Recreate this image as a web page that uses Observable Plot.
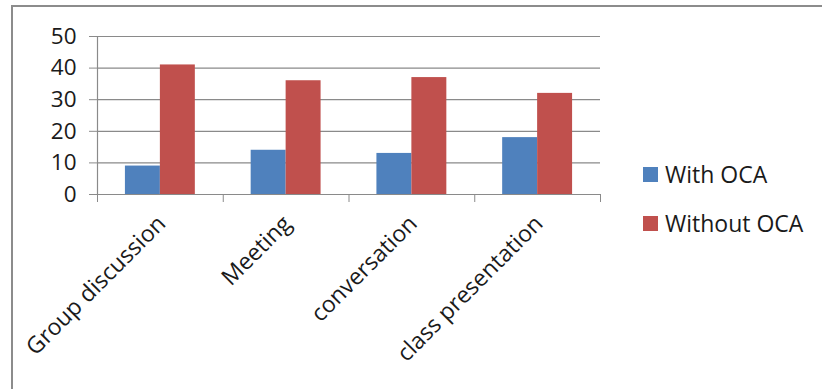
<!DOCTYPE html>
<html><head><meta charset="utf-8">
<script src="https://cdn.jsdelivr.net/npm/d3@7"></script>
<script src="https://cdn.jsdelivr.net/npm/@observablehq/plot@0.6"></script>
<style>
html,body{margin:0;padding:0;background:#fff;}
#wrap{position:relative;width:822px;height:389px;overflow:hidden;font-family:"Open Sans",sans-serif;}
#frame{position:absolute;left:11px;top:5px;right:-10px;bottom:-10px;border-top:2px solid #8c8c8c;border-left:2px solid #8c8c8c;}
#chart{position:absolute;left:0;top:0;}
#legend{position:absolute;left:643px;top:161px;}
.item{display:flex;align-items:center;height:26px;margin-bottom:23px;font-size:23px;color:#1a1a1a;white-space:nowrap;}
.sw{width:15px;height:15px;margin-right:7px;flex:none;}
</style></head><body>
<div id="wrap"><div id="frame"></div><div id="chart"></div><div id="legend"></div></div>
<script>
const categories = ["Group discussion", "Meeting", "conversation", "class presentation"];
const seriesNames = ["With OCA", "Without OCA"];
const withOCA = [9, 14, 13, 18];
const withoutOCA = [41, 36, 37, 32];
const seriesColors = ["#4F81BD", "#C0504D"];
const yTicks = [0, 10, 20, 30, 40, 50];

const gray = "#8a8a8a";
const barW = 0.278; // fraction of a category slot per bar

const rows = [];
categories.forEach((c, i) => {
  rows.push({category: c, index: i, s: 0, series: seriesNames[0], value: withOCA[i]});
  rows.push({category: c, index: i, s: 1, series: seriesNames[1], value: withoutOCA[i]});
});

const chart = Plot.plot({
  width: 822,
  height: 389,
  marginLeft: 97,
  marginRight: 222,
  marginTop: 36,
  marginBottom: 195,
  style: {fontFamily: "'Open Sans', sans-serif", fontSize: "22px", color: "#1a1a1a", background: "transparent", overflow: "visible"},
  x: {domain: [0, categories.length], axis: null},
  y: {domain: [0, 50], axis: null},
  color: {domain: seriesNames, range: seriesColors},
  marks: [
    Plot.ruleY(yTicks, {stroke: gray, strokeWidth: 1.2}),
    Plot.ruleX([0], {stroke: gray, strokeWidth: 1.2}),
    Plot.axisY({ticks: yTicks, tickSize: 8, tickPadding: 13, stroke: gray, fill: "#1a1a1a", fontSize: 22.5, label: null, tickFormat: d => String(d)}),
    Plot.axisX({ticks: d3.range(categories.length + 1), tickSize: 8, stroke: gray, label: null, tickFormat: () => ""}),
    Plot.rect(rows, {
      x1: d => d.index + 0.5 - barW + d.s * barW,
      x2: d => d.index + 0.5 + d.s * barW,
      y1: 0,
      y2: "value",
      fill: "series"
    }),
    Plot.text(categories, {
      x: (d, i) => i + 0.5,
      y: 0,
      text: d => d,
      rotate: -45,
      textAnchor: "end",
      lineAnchor: "top",
      dx: -5,
      dy: 19,
      fontSize: 23,
      fill: "#1a1a1a"
    })
  ]
});
document.getElementById("chart").appendChild(chart);

const legend = document.getElementById("legend");
seriesNames.forEach((name, i) => {
  const item = document.createElement("div");
  item.className = "item";
  const sw = document.createElement("span");
  sw.className = "sw";
  sw.style.background = seriesColors[i];
  const label = document.createElement("span");
  label.textContent = name;
  item.appendChild(sw);
  item.appendChild(label);
  legend.appendChild(item);
});
</script>
</body></html>
